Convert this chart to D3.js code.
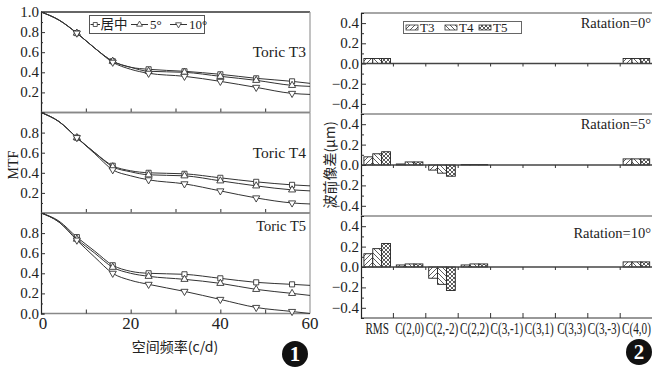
<!DOCTYPE html>
<html>
<head>
<meta charset="utf-8">
<script src="https://cdn.jsdelivr.net/npm/d3@7"></script>
<style>
  body { margin: 0; background: #fff; }
  svg { display: block; }
  text { font-family: "Liberation Serif", "DejaVu Serif", serif; fill: #222; }
  .cjk { font-family: "Noto Sans CJK SC", sans-serif; }
</style>
</head>
<body>
<div id="chart"></div>
<script>
// ---------- data: left chart (MTF) ----------
var freqs = [0, 4, 8, 12, 16, 20, 24, 32, 40, 48, 56, 60];
var markerFreqs = [8, 16, 24, 32, 40, 48, 56];
var seriesNames = ["居中", "5°", "10°"];
var panelNames = ["Toric T3", "Toric T4", "Toric T5"];

var t3Center = [1.0, 0.92, 0.79, 0.64, 0.51, 0.45, 0.43, 0.41, 0.38, 0.34, 0.31, 0.29];
var t3Deg5   = [1.0, 0.92, 0.79, 0.64, 0.51, 0.45, 0.41, 0.40, 0.36, 0.32, 0.27, 0.26];
var t3Deg10  = [1.0, 0.92, 0.79, 0.64, 0.50, 0.43, 0.39, 0.36, 0.31, 0.25, 0.19, 0.18];

var t4Center = [1.0, 0.91, 0.75, 0.60, 0.47, 0.42, 0.40, 0.39, 0.35, 0.31, 0.28, 0.27];
var t4Deg5   = [1.0, 0.91, 0.75, 0.60, 0.46, 0.41, 0.38, 0.37, 0.32, 0.27, 0.23, 0.22];
var t4Deg10  = [1.0, 0.91, 0.75, 0.59, 0.43, 0.37, 0.33, 0.29, 0.22, 0.15, 0.10, 0.09];

var t5Center = [1.0, 0.92, 0.76, 0.62, 0.48, 0.42, 0.40, 0.39, 0.35, 0.31, 0.29, 0.28];
var t5Deg5   = [1.0, 0.91, 0.74, 0.60, 0.46, 0.40, 0.37, 0.34, 0.30, 0.24, 0.20, 0.18];
var t5Deg10  = [1.0, 0.91, 0.73, 0.56, 0.40, 0.33, 0.29, 0.22, 0.14, 0.06, 0.02, 0.0];

var mtfPanels = [[t3Center, t3Deg5, t3Deg10], [t4Center, t4Deg5, t4Deg10], [t5Center, t5Deg5, t5Deg10]];

// ---------- data: right chart (wavefront aberration) ----------
var categories = ["RMS", "C(2,0)", "C(2,-2)", "C(2,2)", "C(3,-1)", "C(3,1)", "C(3,3)", "C(3,-3)", "C(4,0)"];
var lensNames = ["T3", "T4", "T5"];
var rotNames = ["Ratation=0°", "Ratation=5°", "Ratation=10°"];

var rot0T3 = [0.05, 0, 0, 0, 0, 0, 0, 0, 0.05];
var rot0T4 = [0.05, 0, 0, 0, 0, 0, 0, 0, 0.05];
var rot0T5 = [0.05, 0, 0, 0, 0, 0, 0, 0, 0.05];

var rot5T3 = [0.08, 0.01, -0.05, 0.005, 0, 0, 0, 0, 0.06];
var rot5T4 = [0.11, 0.03, -0.08, 0.005, 0, 0, 0, 0, 0.06];
var rot5T5 = [0.13, 0.03, -0.11, 0.005, 0, 0, 0, 0, 0.06];

var rot10T3 = [0.13, 0.02, -0.11, 0.02, 0, 0, 0, 0, 0.05];
var rot10T4 = [0.18, 0.03, -0.17, 0.03, 0, 0, 0, 0, 0.05];
var rot10T5 = [0.23, 0.03, -0.23, 0.03, 0, 0, 0, 0, 0.05];

var wfPanels = [[rot0T3, rot0T4, rot0T5], [rot5T3, rot5T4, rot5T5], [rot10T3, rot10T4, rot10T5]];

var xTicks = [0, 20, 40, 60];
var mtfYTicks = [[1.0, 0.8, 0.6, 0.4, 0.2], [0.8, 0.6, 0.4, 0.2], [0.8, 0.6, 0.4, 0.2, 0.0]];
var wfYTicks = [0.4, 0.2, 0.0, -0.2, -0.4];

var svgWidth = 652, svgHeight = 368;
var svg = d3.select("#chart").append("svg")
  .attr("width", svgWidth)
  .attr("height", svgHeight);

// hatch patterns
var defs = svg.append("defs");
function hatch(id, d, size) {
  defs.append("pattern")
    .attr("id", id)
    .attr("patternUnits", "userSpaceOnUse")
    .attr("width", size).attr("height", size)
    .append("path")
    .attr("d", d)
    .attr("stroke", "#333")
    .attr("stroke-width", 0.8)
    .attr("fill", "none");
}
hatch("p-t3", "M-1,1 l2,-2 M0,5 l5,-5 M4,6 l2,-2", 5);
hatch("p-t4", "M-1,4 l2,2 M0,0 l5,5 M4,-1 l2,2", 5);
hatch("p-t5", "M-1,1 l2,-2 M0,4 l4,-4 M3,5 l2,-2 M-1,3 l2,2 M0,0 l4,4 M3,-1 l2,2", 4);
var patterns = ["url(#p-t3)", "url(#p-t4)", "url(#p-t5)"];

// ================= LEFT: MTF =================
var L = {left: 41, right: 310, top: 12, ph: 100.5};
var x = d3.scaleLinear().domain([0, 60]).range([L.left, L.right]);
var line = d3.line().curve(d3.curveMonotoneX);
var markerSym = [d3.symbolSquare, d3.symbolTriangle, d3.symbolTriangle];

mtfPanels.forEach(function(series, p) {
  var top = L.top + p * L.ph;
  var y = d3.scaleLinear().domain([0, 1]).range([top + L.ph, top]);
  var g = svg.append("g");

  // frame
  g.append("line").attr("x1", L.left).attr("x2", L.right).attr("y1", top).attr("y2", top)
    .attr("stroke", p == 0 ? "#333" : "#888").attr("stroke-width", 1.5);
  g.append("line").attr("x1", L.left).attr("x2", L.right).attr("y1", top + L.ph).attr("y2", top + L.ph)
    .attr("stroke", "#888").attr("stroke-width", 1.5);
  g.append("line").attr("x1", L.right).attr("x2", L.right).attr("y1", top).attr("y2", top + L.ph)
    .attr("stroke", "#999").attr("stroke-width", 1.2);

  // y axis with inward ticks
  var yAxis = d3.axisRight(y).tickValues(d3.range(0, 1.01, 0.1)).tickSize(3).tickFormat("");
  g.append("g").attr("transform", "translate(" + L.left + ",0)").call(yAxis)
    .call(function(s) {
      s.select(".domain").attr("stroke", "#222").attr("stroke-width", 1.2);
      s.selectAll(".tick line").attr("x2", function(d) { return Math.round(d * 10) % 2 == 0 ? 4 : 2; })
        .attr("stroke", "#333");
    });
  mtfYTicks[p].forEach(function(v) {
    g.append("text").attr("x", L.left - 2).attr("y", y(v) + 5)
      .attr("text-anchor", "end").attr("font-size", 15).text(v.toFixed(1));
  });

  // x ticks inward (pointing up from bottom)
  var xAxis = d3.axisTop(x).tickValues([10, 20, 30, 40, 50]).tickSize(4).tickFormat("");
  g.append("g").attr("transform", "translate(0," + (top + L.ph) + ")").call(xAxis)
    .call(function(s) { s.select(".domain").remove(); s.selectAll(".tick line").attr("stroke", "#333"); });

  // curves
  series.forEach(function(vals, si) {
    var pts = freqs.map(function(f, i) { return [x(f), y(vals[i])]; });
    g.append("path").attr("d", line(pts)).attr("fill", "none")
      .attr("stroke", "#333").attr("stroke-width", 1);
    freqs.forEach(function(f, i) {
      if (markerFreqs.indexOf(f) < 0) return;
      g.append("path")
        .attr("d", d3.symbol().type(markerSym[si]).size(si == 0 ? 26 : 22)())
        .attr("transform", "translate(" + x(f) + "," + y(vals[i]) + ")" + (si == 2 ? " rotate(180)" : ""))
        .attr("fill", "#fff").attr("stroke", "#333").attr("stroke-width", 0.9);
    });
  });

  g.append("text").attr("x", 306).attr("y", top + (p == 2 ? 18 : 45)).attr("text-anchor", "end")
    .attr("font-size", p == 2 ? 14.5 : 15.5).text(panelNames[p]);
});

// x tick labels
xTicks.forEach(function(v) {
  svg.append("text").attr("x", x(v) + (v == 0 ? 2 : 0)).attr("y", 329).attr("text-anchor", "middle")
    .attr("font-size", 17).text(v);
});
svg.append("text").attr("class", "cjk").attr("x", 175).attr("y", 352).attr("text-anchor", "middle")
  .attr("font-size", 14).text("空间频率(c/d)");
svg.append("text").attr("transform", "translate(18,165) rotate(-90)").attr("text-anchor", "middle")
  .attr("font-size", 14).text("MTF");

// left legend
var lg = svg.append("g");
lg.append("rect").attr("x", 89.5).attr("y", 15.5).attr("width", 115).attr("height", 18)
  .attr("fill", "#fff").attr("stroke", "#555").attr("stroke-width", 1);
var legLine = [[90.5, 100], [131, 148], [170, 187]];
seriesNames.forEach(function(name, i) {
  var ly = 24.5, a = legLine[i][0], b = legLine[i][1];
  lg.append("line").attr("x1", a).attr("x2", b).attr("y1", ly).attr("y2", ly)
    .attr("stroke", "#333").attr("stroke-width", 1);
  lg.append("path").attr("d", d3.symbol().type(markerSym[i]).size(i == 0 ? 16 : 15)())
    .attr("transform", "translate(" + ((a + b) / 2) + "," + ly + ")" + (i == 2 ? " rotate(180)" : ""))
    .attr("fill", "#fff").attr("stroke", "#333").attr("stroke-width", 0.8);
  lg.append("text").attr("class", i == 0 ? "cjk" : null).attr("x", b + (i == 0 ? 0.5 : 2)).attr("y", ly + 4.5)
    .attr("font-size", i == 0 ? 13.5 : 13).text(name);
});

// ================= RIGHT: wavefront =================
var R = {left: 361, right: 652.6};
var rTops = [13, 114, 216], rBottoms = [114, 216, 318];
var xb = d3.scaleBand().domain(categories).range([R.left, R.right]).paddingInner(0.18).paddingOuter(0.09);
var xs = d3.scaleBand().domain(lensNames).range([0, xb.bandwidth()]);
var bounds = categories.slice(0, -1).map(function(c) { return xb(c) + xb.bandwidth() + (xb.step() - xb.bandwidth()) / 2; });

wfPanels.forEach(function(series, p) {
  var top = rTops[p], bot = rBottoms[p];
  var y = d3.scaleLinear().domain([-0.5, 0.5]).range([bot, top]);
  var g = svg.append("g");

  g.append("line").attr("x1", R.left).attr("x2", 655).attr("y1", top).attr("y2", top)
    .attr("stroke", "#888").attr("stroke-width", 1.5);

  // bars
  series.forEach(function(vals, si) {
    var rows = vals.map(function(v, i) { return {cat: categories[i], v: v}; })
      .filter(function(d) { return d.v != 0; });
    var bars = g.selectAll(null).data(rows).enter();
    [0, 1].forEach(function(layer) {
      bars.append("rect")
        .attr("x", function(d) { return xb(d.cat) + xs(lensNames[si]); })
        .attr("width", xs.bandwidth())
        .attr("y", function(d) { return y(Math.max(0, d.v)); })
        .attr("height", function(d) { return Math.abs(y(d.v) - y(0)); })
        .attr("fill", layer == 0 ? "#fff" : patterns[si])
        .attr("stroke", layer == 0 ? "none" : "#222").attr("stroke-width", 0.9);
    });
  });

  // zero line with small ticks
  g.append("line").attr("x1", R.left).attr("x2", 655).attr("y1", y(0)).attr("y2", y(0))
    .attr("stroke", "#444").attr("stroke-width", 1.4);
  bounds.forEach(function(bx) {
    g.append("line").attr("x1", bx).attr("x2", bx).attr("y1", y(0)).attr("y2", y(0) + 3)
      .attr("stroke", "#333").attr("stroke-width", 1);
  });

  // y axis
  var yAxis = d3.axisRight(y).tickValues(d3.range(-0.4, 0.41, 0.1)).tickSize(3).tickFormat("");
  g.append("g").attr("transform", "translate(" + R.left + ",0)").call(yAxis)
    .call(function(s) {
      s.select(".domain").attr("stroke", "#222").attr("stroke-width", 1.2);
      s.selectAll(".tick line").attr("x2", function(d) { return Math.round(Math.abs(d) * 10) % 2 == 0 ? 5 : 3; })
        .attr("stroke", "#333");
    });
  wfYTicks.forEach(function(v) {
    g.append("text").attr("x", R.left - 2).attr("y", y(v) + 5).attr("text-anchor", "end")
      .attr("font-size", 15).text((v < 0 ? "\u2212" : "") + Math.abs(v).toFixed(1));
  });

  g.append("text").attr("x", 651).attr("y", top + 15 + (p == 2 ? 7 : 0)).attr("text-anchor", "end")
    .attr("font-size", 14.5).text(rotNames[p]);
});

// bottom frame of right chart
svg.append("line").attr("x1", R.left).attr("x2", 655).attr("y1", 318).attr("y2", 318)
  .attr("stroke", "#333").attr("stroke-width", 1.2);
bounds.forEach(function(bx) {
  svg.append("line").attr("x1", bx).attr("x2", bx).attr("y1", 318).attr("y2", 313)
    .attr("stroke", "#333").attr("stroke-width", 1);
});

// category labels (condensed)
categories.forEach(function(c) {
  svg.append("text")
    .attr("transform", "translate(" + (xb(c) + xb.bandwidth() / 2) + ",334) scale(0.7,1)")
    .attr("text-anchor", "middle").attr("font-size", 16).text(c);
});

svg.append("text").attr("class", "cjk").attr("transform", "translate(335,165) rotate(-90)")
  .attr("text-anchor", "middle").attr("font-size", 14).text("波前像差(μm)");

// right legend
var rg = svg.append("g");
rg.append("rect").attr("x", 403.5).attr("y", 21.5).attr("width", 118).attr("height", 12)
  .attr("fill", "#fff").attr("stroke", "#666").attr("stroke-width", 1);
var rLegX = [406, 445, 479];
lensNames.forEach(function(n, i) {
  rg.append("rect").attr("x", rLegX[i]).attr("y", 25).attr("width", 12).attr("height", 5)
    .attr("fill", patterns[i]).attr("stroke", "#333").attr("stroke-width", 0.8);
  rg.append("text").attr("x", rLegX[i] + 14).attr("y", 32).attr("font-size", 13).text(n);
});

// panel numbers
[[295, 354, "1"], [639, 352, "2"]].forEach(function(d) {
  svg.append("circle").attr("cx", d[0]).attr("cy", d[1]).attr("r", 13).attr("fill", "#111");
  svg.append("text").attr("x", d[0]).attr("y", d[1] + 7).attr("text-anchor", "middle")
    .attr("font-size", 21).attr("font-weight", "bold").style("fill", "#fff").text(d[2]);
});
</script>
</body>
</html>
